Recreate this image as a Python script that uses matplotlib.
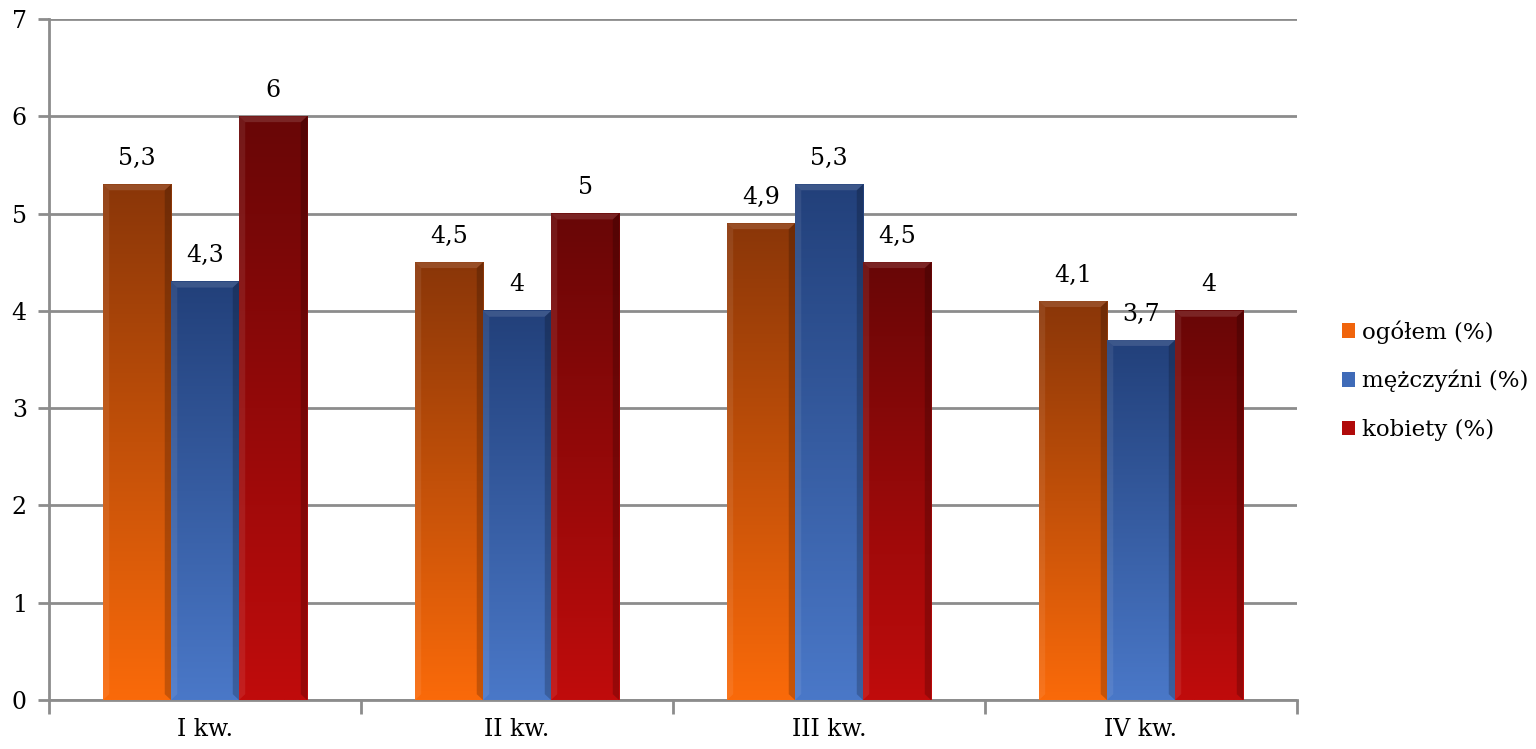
import numpy as np
import matplotlib.pyplot as plt
from matplotlib.colors import LinearSegmentedColormap
from matplotlib.patches import Patch, Polygon

# Data
quarters = ["I kw.", "II kw.", "III kw.", "IV kw."]
series_names = ["ogółem (%)", "mężczyźni (%)", "kobiety (%)"]
ogolem = [5.3, 4.5, 4.9, 4.1]
mezczyzni = [4.3, 4.0, 5.3, 3.7]
kobiety = [6.0, 5.0, 4.5, 4.0]
labels_txt = [["5,3", "4,5", "4,9", "4,1"],
              ["4,3", "4", "5,3", "3,7"],
              ["6", "5", "4,5", "4"]]

# bottom colour, top colour per series
bottom_cols = ["#fa6a0a", "#4a78c8", "#c00c0c"]
top_cols = ["#8a3608", "#22407a", "#680606"]
legend_cols = ["#f0640c", "#3f6bb8", "#b00a0a"]

plt.rcParams['font.family'] = ['DejaVu Serif']

fig = plt.figure(figsize=(15.36, 7.49), dpi=100)
ax = fig.add_axes([0.0319, 0.0654, 0.8125, 0.9092])

x = np.arange(len(quarters))
w = 0.218
values = [ogolem, mezczyzni, kobiety]

grad = np.linspace(0, 1, 256).reshape(-1, 1)
for s, vals in enumerate(values):
    cmap = LinearSegmentedColormap.from_list("g%d" % s, [bottom_cols[s], top_cols[s]])
    for i, v in enumerate(vals):
        x0 = x[i] + (s - 1) * w - w / 2
        x1 = x0 + w
        ax.imshow(grad, extent=[x0, x1, 0, v], origin='lower', cmap=cmap,
                  aspect='auto', zorder=3, interpolation='bilinear')
        # bevel: darker right edge, lighter top edge
        bx, by = 0.02, 0.06
        ax.add_patch(Polygon([[x1 - bx, by], [x1, 0], [x1, v], [x1 - bx, v - by]],
                             closed=True, facecolor='black', alpha=0.2,
                             edgecolor='none', zorder=4))
        ax.add_patch(Polygon([[x0, v], [x1, v], [x1 - bx, v - by], [x0 + bx, v - by]],
                             closed=True, facecolor='white', alpha=0.12,
                             edgecolor='none', zorder=4))
        ax.add_patch(Polygon([[x0, 0], [x0 + bx, by], [x0 + bx, v - by], [x0, v]],
                             closed=True, facecolor='white', alpha=0.08,
                             edgecolor='none', zorder=4))
        ax.text(x[i] + (s - 1) * w, v + 0.15, labels_txt[s][i], ha='center',
                va='bottom', fontsize=17, zorder=5)

ax.set_xlim(-0.5, len(quarters) - 0.5)
ax.set_ylim(0, 7)
ax.set_yticks(range(8))
ax.yaxis.grid(True, color='#8c8c8c', linewidth=2)
ax.set_axisbelow(True)

ax.set_xticks(x)
ax.set_xticklabels(quarters, fontsize=17)
ax.set_xticks(np.arange(-0.5, len(quarters), 1), minor=True)
ax.tick_params(axis='x', which='major', length=0, pad=13)
ax.tick_params(axis='x', which='minor', length=10, width=2, color='#8c8c8c')
ax.tick_params(axis='y', length=8, width=2, color='#8c8c8c', labelsize=17, pad=8)

for side in ['top', 'right']:
    ax.spines[side].set_visible(False)
for side in ['left', 'bottom']:
    ax.spines[side].set_color('#8c8c8c')
    ax.spines[side].set_linewidth(2)

handles = [Patch(facecolor=c, edgecolor='none') for c in legend_cols]
fig.legend(handles, series_names, loc='center left', bbox_to_anchor=(0.86, 0.492),
           frameon=False, fontsize=16.5, handlelength=0.6, handleheight=0.6,
           handletextpad=0.3, labelspacing=1.15)

fig.savefig("out.png", dpi=100)
